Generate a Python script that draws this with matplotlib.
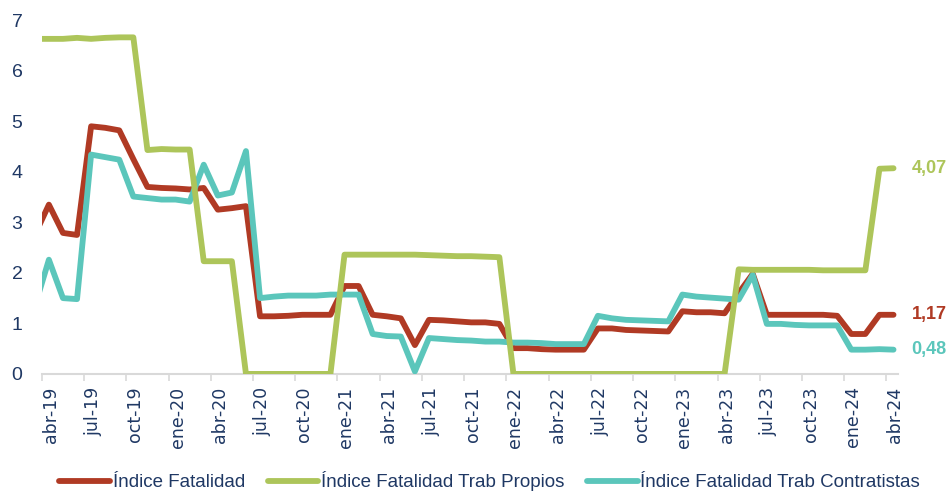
import matplotlib.pyplot as plt
import numpy as np

plt.rcParams['font.family'] = ['Liberation Sans', 'DejaVu Sans']

# monthly values, mar-19 .. abr-24 (first point sits just left of the axis)
fatalidad = [2.75, 3.35, 2.79, 2.75, 4.90, 4.87, 4.82, 4.25, 3.70, 3.68, 3.67,
             3.65, 3.68, 3.25, 3.28, 3.32, 1.14, 1.14, 1.15, 1.17, 1.17,
             1.17, 1.74, 1.74, 1.17, 1.14, 1.10, 0.57, 1.07, 1.06, 1.04,
             1.02, 1.02, 0.99, 0.51, 0.51, 0.49, 0.48, 0.48, 0.48, 0.90,
             0.90, 0.87, 0.86, 0.85, 0.84, 1.24, 1.22, 1.22, 1.20, 1.60,
             1.98, 1.17, 1.17, 1.17, 1.17, 1.17, 1.15, 0.79, 0.79, 1.17, 1.17]
propios = [6.63, 6.63, 6.63, 6.65, 6.63, 6.65, 6.66, 6.66, 4.43, 4.45, 4.44,
           4.44, 2.23, 2.23, 2.23, 0, 0, 0, 0, 0, 0,
           0, 2.36, 2.36, 2.36, 2.36, 2.36, 2.36, 2.35, 2.34, 2.33,
           2.33, 2.32, 2.31, 0, 0, 0, 0, 0, 0, 0,
           0, 0, 0, 0, 0, 0, 0, 0, 0, 2.07,
           2.06, 2.06, 2.06, 2.06, 2.06, 2.05, 2.05, 2.05, 2.05, 4.06, 4.07]
contratistas = [1.33, 2.26, 1.50, 1.48, 4.34, 4.29, 4.24, 3.51, 3.48, 3.45, 3.45,
                3.41, 4.14, 3.53, 3.59, 4.41, 1.50, 1.53, 1.55, 1.55, 1.55,
                1.57, 1.57, 1.57, 0.79, 0.75, 0.74, 0.05, 0.71, 0.69, 0.67,
                0.66, 0.64, 0.64, 0.62, 0.62, 0.61, 0.59, 0.59, 0.59, 1.15,
                1.10, 1.07, 1.06, 1.05, 1.04, 1.57, 1.53, 1.51, 1.49, 1.47,
                1.96, 0.99, 0.99, 0.97, 0.96, 0.96, 0.96, 0.48, 0.48, 0.49, 0.48]
tick_labels = ['abr-19', 'jul-19', 'oct-19', 'ene-20', 'abr-20', 'jul-20',
               'oct-20', 'ene-21', 'abr-21', 'jul-21', 'oct-21', 'ene-22',
               'abr-22', 'jul-22', 'oct-22', 'ene-23', 'abr-23', 'jul-23',
               'oct-23', 'ene-24', 'abr-24']

red = '#B03A24'
green = '#ADC55A'
teal = '#5BC6BB'
navy = '#1F3864'

# points sit mid-month, ticks at month starts
x = np.arange(len(fatalidad)) - 0.5

fig = plt.figure(figsize=(9.51, 4.92), dpi=100)
ax = fig.add_axes([0.044, 0.240, 0.900, 0.719])
lw = 4.2
l1, = ax.plot(x, fatalidad, color=red, lw=lw, solid_capstyle='round',
              label='Índice Fatalidad', zorder=2)
l3, = ax.plot(x, contratistas, color=teal, lw=lw, solid_capstyle='round',
              label='Índice Fatalidad Trab Contratistas', zorder=3)
l2, = ax.plot(x, propios, color=green, lw=lw, solid_capstyle='round',
              label='Índice Fatalidad Trab Propios', zorder=4)

ax.set_xlim(0, 60.8)
ax.set_ylim(0, 7)
ax.set_xticks(np.arange(0, 61, 3))
ax.set_xticklabels(tick_labels, rotation=90, fontsize=12.5, color=navy,
                   family='DejaVu Sans', ha='left')
ax.set_yticks(range(8))
ax.tick_params(axis='y', length=0, labelsize=14, labelcolor=navy, pad=14)
ax.tick_params(axis='x', length=5, color='#D9D9D9', width=1.2, pad=4)
for s in ['top', 'right', 'left']:
    ax.spines[s].set_visible(False)
ax.spines['bottom'].set_color('#D9D9D9')
ax.spines['bottom'].set_linewidth(1.5)
ax.spines['bottom'].set_zorder(1)

for vals, c in [(propios, green), (fatalidad, red), (contratistas, teal)]:
    ax.annotate(f'{vals[-1]:.2f}'.replace('.', ','), xy=(x[-1], vals[-1]),
                xytext=(13, 0), textcoords='offset points', va='center',
                ha='left', fontsize=13, fontweight='bold', color=c,
                annotation_clip=False)

fig.legend(handles=[l1, l2, l3], loc='center', bbox_to_anchor=(0.515, 0.022),
           ncol=3, frameon=False, fontsize=13.5, handlelength=2.7,
           columnspacing=1.2, handletextpad=0.15, labelcolor=navy)

plt.savefig('out.png', dpi=100)
